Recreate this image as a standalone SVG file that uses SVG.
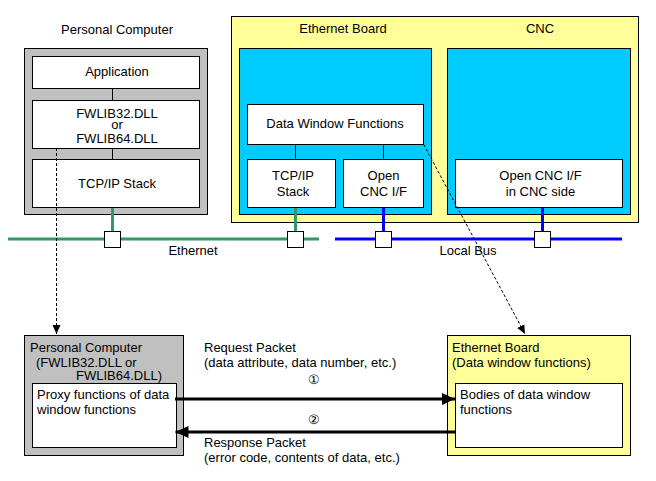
<svg xmlns="http://www.w3.org/2000/svg" width="656" height="481" viewBox="0 0 656 481">
<style>
text{font-family:"Liberation Sans",Arial,sans-serif;font-size:13px;fill:#000}
.c{text-anchor:middle}
.box{fill:#fff;stroke:#000;stroke-width:1}
.gray{fill:#c0c0c0;stroke:#000;stroke-width:1}
.yel{fill:#ffff99;stroke:#000;stroke-width:1}
.cy{fill:#00ccff;stroke:#000;stroke-width:1}
.thin{stroke:#000;stroke-width:1;fill:none}
.eth{stroke:#339966;stroke-width:3;fill:none}
.bus{stroke:#0000ff;stroke-width:3;fill:none}
.dash{stroke:#000;stroke-width:1;fill:none;stroke-dasharray:3,2}
.bold{stroke:#000;stroke-width:3;fill:none}
.port{fill:#fff;stroke:#000;stroke-width:1}
</style>
<defs>
<marker id="sa" markerUnits="userSpaceOnUse" markerWidth="10" markerHeight="10" refX="9" refY="5" orient="auto" viewBox="0 0 10 10">
<path d="M0,1 L9,5 L0,9 Z" fill="#000"/>
</marker>
<marker id="ba" markerUnits="userSpaceOnUse" markerWidth="14" markerHeight="12" refX="13" refY="6" orient="auto" viewBox="0 0 14 12">
<path d="M0,0 L13,6 L0,12 Z" fill="#000"/>
</marker>
</defs>
<rect width="656" height="481" fill="#fff"/>

<g id="pc-top">
<text class="c" x="117" y="34">Personal Computer</text>
<rect class="gray" x="24.5" y="48.5" width="183" height="166"/>
<line class="thin" x1="112.5" y1="88" x2="112.5" y2="100"/>
<line class="thin" x1="112.5" y1="148" x2="112.5" y2="159"/>
<g id="app"><rect class="box" x="32.5" y="56.5" width="167" height="32"/><text class="c" x="117" y="76">Application</text></g>
<g id="fwlib"><rect class="box" x="32.5" y="100.5" width="167" height="48"/><text class="c" x="117" y="118">FWLIB32.DLL</text><text class="c" x="117" y="129">or</text><text class="c" x="117" y="143">FWLIB64.DLL</text></g>
<g id="pc-tcp"><rect class="box" x="32.5" y="159.5" width="167" height="48"/><text class="c" x="117" y="188">TCP/IP Stack</text></g>
</g>

<g id="eb-cnc-top">
<rect class="yel" x="231.5" y="16.5" width="407" height="206"/>
<text class="c" x="343" y="33">Ethernet Board</text>
<text class="c" x="540" y="33">CNC</text>
<g id="eb">
<rect class="cy" x="239.5" y="48.5" width="192" height="166"/>
<line class="thin" x1="295.5" y1="144" x2="295.5" y2="159"/>
<line class="thin" x1="383.5" y1="144" x2="383.5" y2="159"/>
<g id="dwf"><rect class="box" x="247.5" y="104.5" width="176" height="40"/><text class="c" x="335" y="128">Data Window Functions</text></g>
<g id="eb-tcp"><rect class="box" x="247.5" y="159.5" width="88" height="48"/><text class="c" x="293" y="180">TCP/IP</text><text class="c" x="293" y="196">Stack</text></g>
<g id="eb-open"><rect class="box" x="343.5" y="159.5" width="80" height="48"/><text class="c" x="383.5" y="180">Open</text><text class="c" x="383.5" y="196">CNC I/F</text></g>
</g>
<g id="cnc">
<rect class="cy" x="447.5" y="48.5" width="183" height="166"/>
<g id="cnc-open"><rect class="box" x="455.5" y="159.5" width="167" height="48"/><text class="c" x="540.5" y="180">Open CNC I/F</text><text class="c" x="540.5" y="196">in CNC side</text></g>
</g>
</g>

<g id="networks">
<line class="eth" x1="8" y1="239" x2="319" y2="239"/>
<line class="bus" x1="335" y1="239" x2="622" y2="239"/>
<line class="eth" x1="112.5" y1="208" x2="112.5" y2="232"/>
<line class="eth" x1="295.5" y1="208" x2="295.5" y2="232"/>
<line class="bus" x1="383.5" y1="208" x2="383.5" y2="232"/>
<line class="bus" x1="542.5" y1="208" x2="542.5" y2="232"/>
<rect class="port" x="104.5" y="231.5" width="16" height="16"/>
<rect class="port" x="287.5" y="231.5" width="16" height="16"/>
<rect class="port" x="375.5" y="231.5" width="16" height="16"/>
<rect class="port" x="534.5" y="231.5" width="16" height="16"/>
<text class="c" x="193" y="255">Ethernet</text>
<text class="c" x="468" y="255">Local Bus</text>
</g>

<g id="pc-bottom">
<rect class="gray" x="24.5" y="335.5" width="159" height="120"/>
<text x="30" y="352">Personal Computer</text>
<text x="36" y="367">(FWLIB32.DLL or</text>
<text x="162" y="380" text-anchor="end">FWLIB64.DLL)</text>
<rect class="box" x="32.5" y="383.5" width="144" height="64"/>
<text x="37" y="399">Proxy functions of data</text>
<text x="37" y="414">window functions</text>
</g>

<g id="eb-bottom">
<rect class="yel" x="447.5" y="335.5" width="183" height="120"/>
<text x="452" y="352">Ethernet Board</text>
<text x="452" y="367">(Data window functions)</text>
<rect class="box" x="455.5" y="383.5" width="167" height="64"/>
<text x="460" y="399">Bodies of data window</text>
<text x="460" y="414">functions</text>
</g>

<g id="connectors">
<line class="dash" x1="56.5" y1="148" x2="56.5" y2="334" marker-end="url(#sa)"/>
<line class="dash" x1="423.7" y1="144.5" x2="525" y2="334" marker-end="url(#sa)"/>
<line class="bold" x1="175" y1="399" x2="455" y2="399" marker-end="url(#ba)"/>
<line class="bold" x1="455" y1="432" x2="175.5" y2="432" marker-end="url(#ba)"/>
<text x="204" y="352">Request Packet</text>
<text x="204" y="367">(data attribute, data number, etc.)</text>
<text class="c" x="314" y="384">①</text>
<text class="c" x="314" y="424">②</text>
<text x="204" y="447">Response Packet</text>
<text x="204" y="462">(error code, contents of data, etc.)</text>
</g>
</svg>
